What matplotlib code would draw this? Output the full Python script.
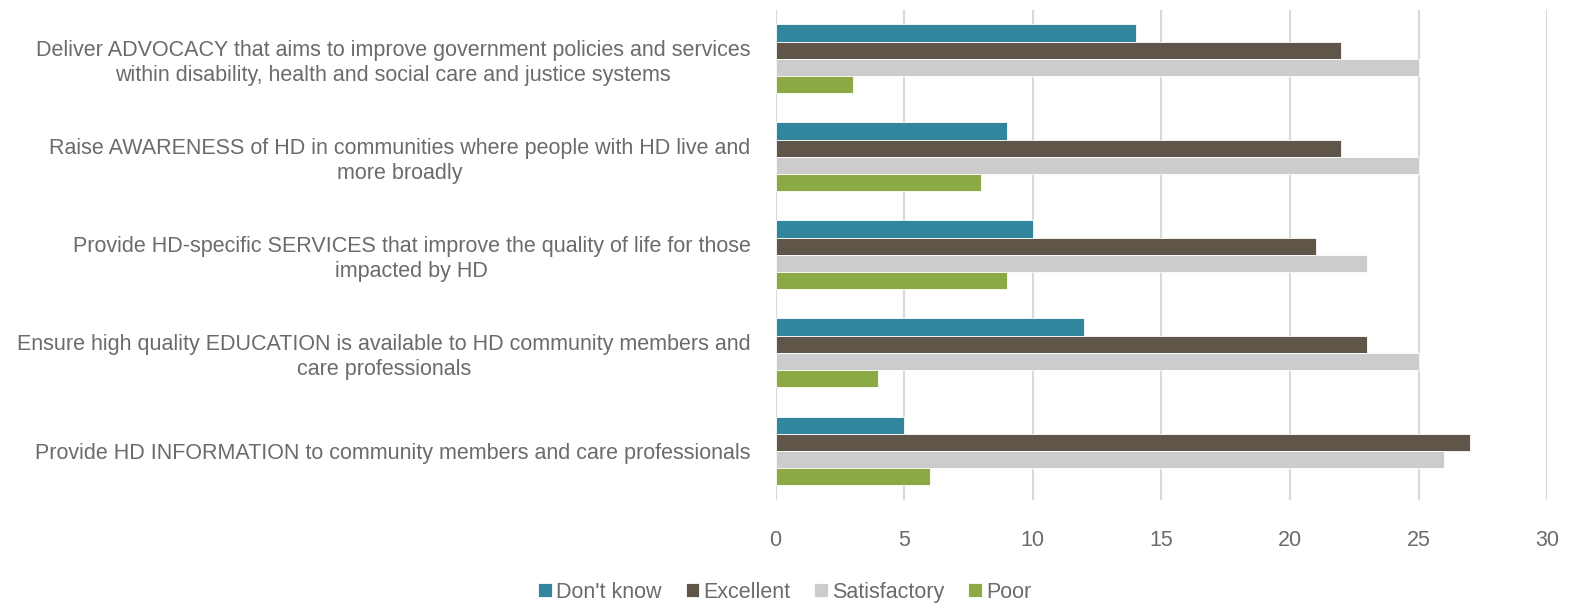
import numpy as np
import matplotlib
matplotlib.use("Agg")
import matplotlib.pyplot as plt

# categories listed bottom -> top
categories = [
    "Provide HD INFORMATION to community members and care professionals",
    "Ensure high quality EDUCATION is available to HD community members and\ncare professionals",
    "Provide HD-specific SERVICES that improve the quality of life for those\nimpacted by HD",
    "Raise AWARENESS of HD in communities where people with HD live and\nmore broadly",
    "Deliver ADVOCACY that aims to improve government policies and services\nwithin disability, health and social care and justice systems",
]
dont_know = [5, 12, 10, 9, 14]
excellent = [27, 23, 21, 22, 22]
satisfactory = [26, 25, 23, 25, 25]
poor = [6, 4, 9, 8, 3]

series = ["Don't know", "Excellent", "Satisfactory", "Poor"]
colors = ["#31859C", "#5F5548", "#CCCCCC", "#8BA944"]
values = [dont_know, excellent, satisfactory, poor]

plt.rcParams["font.family"] = "Liberation Sans"
txt = "#6B6B6B"
fs = 15.5

fig = plt.figure(figsize=(15.70, 6.03), dpi=100)
ax = fig.add_axes([0.494, 0.171, 0.4915, 0.813])

y = np.arange(len(categories))
h = 0.175
offsets = [1.5 * h, 0.5 * h, -0.5 * h, -1.5 * h]
for vals, off, col, lab in zip(values, offsets, colors, series):
    ax.barh(y + off, vals, height=h, color=col, edgecolor="white", linewidth=0.6, label=lab, zorder=3)

ax.set_xlim(0, 30)
ax.set_ylim(-0.5, 4.5)
ax.set_xticks(range(0, 31, 5))
ax.xaxis.grid(True, color="#D9D9D9", linewidth=1.5, zorder=0)
ax.set_yticks(y)
ax.set_yticklabels(categories, multialignment="center", linespacing=1.25)
for s in ax.spines.values():
    s.set_visible(False)
ax.tick_params(axis="both", length=0, colors=txt, labelsize=fs)
ax.tick_params(axis="y", pad=18)
ax.tick_params(axis="x", pad=22)

handles, labels = ax.get_legend_handles_labels()
fig.legend(handles, labels, loc="center", bbox_to_anchor=(0.5, 0.018), ncol=4, frameon=False,
           fontsize=fs, labelcolor=txt, handlelength=0.62, handleheight=0.62,
           handletextpad=0.22, columnspacing=1.1)

fig.savefig("out.png", dpi=100)
